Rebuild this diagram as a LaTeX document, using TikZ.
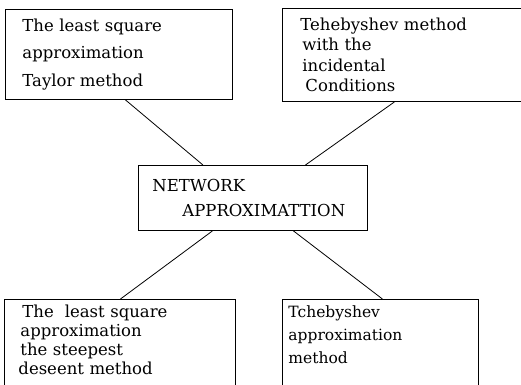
\documentclass[tikz,border=0pt]{standalone}
\usepackage{fontspec}
\setmainfont{DejaVu Serif}
\usepackage{tikz}

\tikzset{
	mbox/.style = {draw, line width = 0.9pt, rectangle, anchor = north west, align = left, inner ysep = 0pt},
	link/.style = {line width = 0.8pt}
}

\begin{document}
\begin{tikzpicture}[x = 1pt, y = -1pt]
		\useasboundingbox (0, 0) rectangle (521, 384);
		\clip (0, 0) rectangle (521, 384);
		%%%%%%%%%%%%%
		\node[mbox, inner xsep = 17pt, text width = 193pt, minimum height = 90pt,
			font = \fontsize{16.5}{27.5}\selectfont] (tl) at (5, 9)
			{The least square\\approximation\\Taylor method};
		\node[mbox, inner xsep = 18pt, text width = 224pt, minimum height = 93pt,
			font = \fontsize{16.5}{20.3}\selectfont] (tr) at (282, 8)
			{Tehebyshev method\\\hspace*{2pt}with the\\\hspace*{2pt}incidental\\\hspace*{5pt}Conditions};
		\node[mbox, inner xsep = 14pt, text width = 201pt, minimum height = 65pt,
			font = \fontsize{16.5}{25}\selectfont] (net) at (138, 165)
			{NETWORK\\\hspace*{30pt}APPROXIMATTION};
		\node[mbox, inner xsep = 14pt, inner ysep = 6pt, text width = 203pt, text depth = 110pt,
			font = \fontsize{16.5}{19}\selectfont] (bl) at (4, 299)
			{\hspace*{4pt}The\ \ least square\\\hspace*{2pt}approximation\\\hspace*{2pt}the steepest\\deseent method};
		\node[mbox, inner xsep = 6pt, inner ysep = 6pt, text width = 184pt, text depth = 110pt,
			font = \fontsize{15.5}{23}\selectfont] (br) at (282, 299)
			{Tchebyshev\\approximation\\method};
		%%%%%%%%%%%%%
		\draw[link] ([xshift = 6.5pt]tl.south) to ([xshift = -50pt]net.north);
		\draw[link] ([xshift = -18pt]tr.south) to ([xshift = 52.5pt]net.north);
		\draw[link] ([xshift = -40.5pt]net.south) to ([xshift = 0.5pt]bl.north);
		\draw[link] ([xshift = 40.5pt]net.south) to ([xshift = 2pt]br.north);
\end{tikzpicture}
\end{document}
